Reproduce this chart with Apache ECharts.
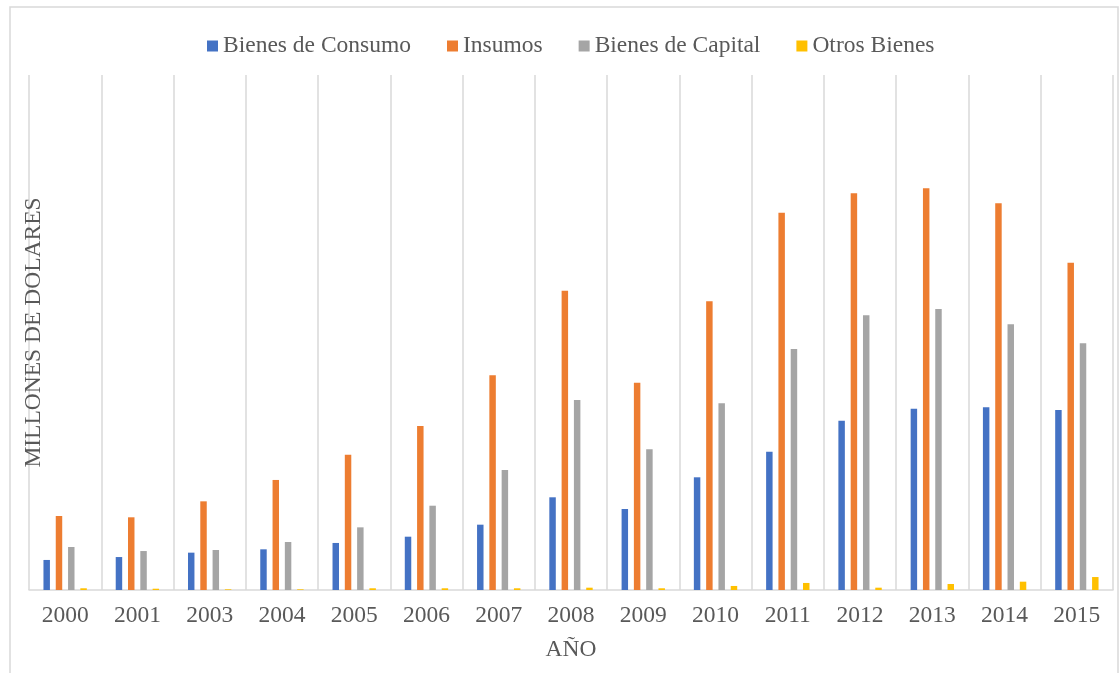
<!DOCTYPE html>
<html>
<head>
<meta charset="utf-8">
<script src="https://cdn.jsdelivr.net/npm/echarts@6/dist/echarts.min.js"></script>
<style>
html,body{margin:0;padding:0;background:#fff;}
#chart{width:1120px;height:673px;}
</style>
</head>
<body>
<div id="chart"></div>
<script>
const categories = ['2000','2001','2003','2004','2005','2006','2007','2008','2009','2010','2011','2012','2013','2014','2015'];
const bienesConsumo = [350, 384, 435, 474, 548, 621, 761, 1080, 944, 1313, 1611, 1972, 2112, 2128, 2097];
const insumos = [862, 847, 1033, 1282, 1576, 1911, 2501, 3487, 2415, 3363, 4396, 4622, 4680, 4505, 3813];
const bienesCapital = [501, 454, 466, 559, 730, 982, 1398, 2214, 1639, 2175, 2808, 3200, 3274, 3095, 2874];
const otrosBienes = [20, 15, 8, 8, 20, 20, 20, 27, 20, 47, 82, 27, 70, 97, 151];
const seriesNames = ['Bienes de Consumo','Insumos','Bienes de Capital','Otros Bienes'];
const colors = ['#4472C4','#ED7D31','#A5A5A5','#FFC000'];
const yAxisTitle = 'MILLONES DE DOLARES';
const xAxisTitle = 'AÑO';

const font = "'Liberation Serif','Times New Roman',serif";
const textColor = '#595959';
const chart = echarts.init(document.getElementById('chart'), null, {renderer:'canvas'});
const dataSets = [bienesConsumo, insumos, bienesCapital, otrosBienes];

chart.setOption({
  animation: false,
  backgroundColor: '#ffffff',
  color: colors,
  graphic: [{
    type: 'rect', silent: true, z: -1,
    shape: {x: 10, y: 7, width: 1108, height: 700},
    style: {fill: 'none', stroke: '#d9d9d9', lineWidth: 1.5}
  }],
  legend: {
    left: 202, top: 29,
    itemWidth: 11, itemHeight: 11, itemGap: 36,
    icon: 'rect',
    textStyle: {fontFamily: font, fontSize: 23.5, color: textColor},
    data: seriesNames
  },
  grid: {left: 29, right: 7, top: 75, bottom: 83, containLabel: false},
  xAxis: {
    type: 'category',
    data: categories,
    boundaryGap: true,
    name: xAxisTitle,
    nameLocation: 'middle',
    nameGap: 48,
    nameTextStyle: {fontFamily: font, fontSize: 23.5, color: textColor},
    axisLine: {show: true, lineStyle: {color: '#d9d9d9', width: 1.5}},
    axisTick: {show: false},
    axisLabel: {interval: 0, margin: 14, fontFamily: font, fontSize: 23.5, color: textColor},
    splitLine: {show: true, interval: 0, lineStyle: {color: '#d9d9d9', width: 1.5}}
  },
  yAxis: {
    type: 'value',
    min: 0, max: 6000,
    name: yAxisTitle,
    nameLocation: 'middle',
    nameRotate: 90,
    nameGap: -17,
    nameTextStyle: {fontFamily: font, fontSize: 23.5, color: textColor},
    axisLine: {show: false},
    axisTick: {show: false},
    axisLabel: {show: false},
    splitLine: {show: false}
  },
  series: seriesNames.map((n, i) => ({
    name: n,
    type: 'bar',
    data: dataSets[i],
    barGap: '90%',
    barCategoryGap: '40%',
    itemStyle: {color: colors[i]}
  }))
});
</script>
</body>
</html>
